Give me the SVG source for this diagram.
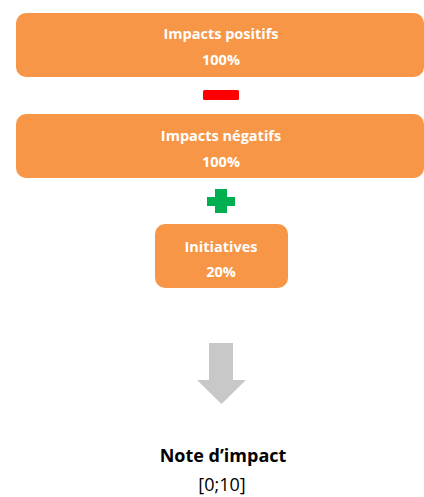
<svg xmlns="http://www.w3.org/2000/svg" width="424" height="497" viewBox="0 0 424 497">
<style>
.box{fill:#F79646;}
.t{font-family:"Open Sans","Liberation Sans",sans-serif;font-weight:bold;font-size:14.5px;fill:#FFFFFF;text-anchor:middle;}
.n{font-family:"Open Sans","Liberation Sans",sans-serif;fill:#000000;text-anchor:middle;font-size:18px;}
</style>
<rect width="424" height="497" fill="#FFFFFF"/>
<g id="positifs">
<rect class="box" x="16" y="13" width="408" height="64" rx="10"/>
<text class="t" x="221" y="39">Impacts positifs</text>
<text class="t" x="221" y="65">100%</text>
</g>
<g id="moins">
<rect x="203" y="90" width="36" height="10" rx="1.5" fill="#FF0000"/>
</g>
<g id="negatifs">
<rect class="box" x="16" y="114" width="408" height="64" rx="10"/>
<text class="t" x="221" y="141">Impacts négatifs</text>
<text class="t" x="221" y="167">100%</text>
</g>
<g id="plus">
<path d="M215 189H227V197H235V206H227V213H215V206H207V197H215Z" fill="#00B050"/>
</g>
<g id="initiatives">
<rect class="box" x="155" y="224" width="133" height="64" rx="10"/>
<text class="t" x="221" y="252">Initiatives</text>
<text class="t" x="221" y="277">20%</text>
</g>
<g id="connectors">
<path d="M209 343H233V380H246L221.5 404L197 380H209Z" fill="#C8C8C8"/>
</g>
<g id="note">
<text class="n" x="223" y="462" font-weight="bold">Note d’impact</text>
<text class="n" x="222" y="491">[0;10]</text>
</g>
</svg>
